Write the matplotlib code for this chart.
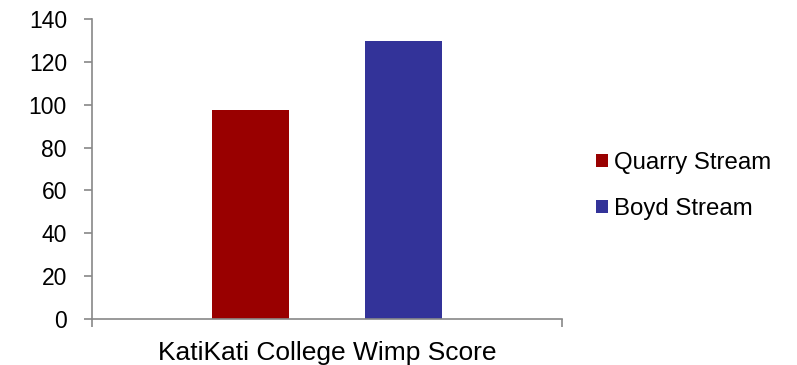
import matplotlib.pyplot as plt
import numpy as np

plt.rcParams["font.family"] = ["Liberation Sans", "DejaVu Sans"]

category = "KatiKati College Wimp Score"
series = ["Quarry Stream", "Boyd Stream"]
values = [97.5, 130]
colors = ["#990000", "#333399"]

fig = plt.figure(figsize=(7.97, 3.65), dpi=100)
ax = fig.add_axes([92 / 797, 1 - 318.5 / 365, 470 / 797, 299.2 / 365])

width = 0.164
offsets = np.array([-0.5, 0.5]) * 2 * 0.1635
for off, val, name, col in zip(offsets, values, series, colors):
    ax.bar(off, val, width=width, color=col, label=name)

ax.set_xlim(-0.5, 0.5)
ax.set_ylim(0, 140)
ax.set_yticks(np.arange(0, 141, 20))
ax.set_xticks([-0.5, 0.5])
ax.set_xticklabels([])
ax.set_xlabel(category, fontsize=19, labelpad=7)

for side in ["top", "right"]:
    ax.spines[side].set_visible(False)
for side in ["left", "bottom"]:
    ax.spines[side].set_color("#888888")
    ax.spines[side].set_linewidth(1.2)
ax.tick_params(axis="y", direction="out", length=6, width=1.2, color="#888888",
               labelsize=16.5, pad=12)
ax.tick_params(axis="x", direction="out", length=5.5, width=1.2, color="#888888")

fig.legend(loc="center left", bbox_to_anchor=(574 / 797, 1 - 186 / 365),
           frameon=False, fontsize=17.3, handlelength=0.5, handleheight=0.5,
           handletextpad=0.25, labelspacing=1.0)

fig.savefig("out.png", dpi=100)
